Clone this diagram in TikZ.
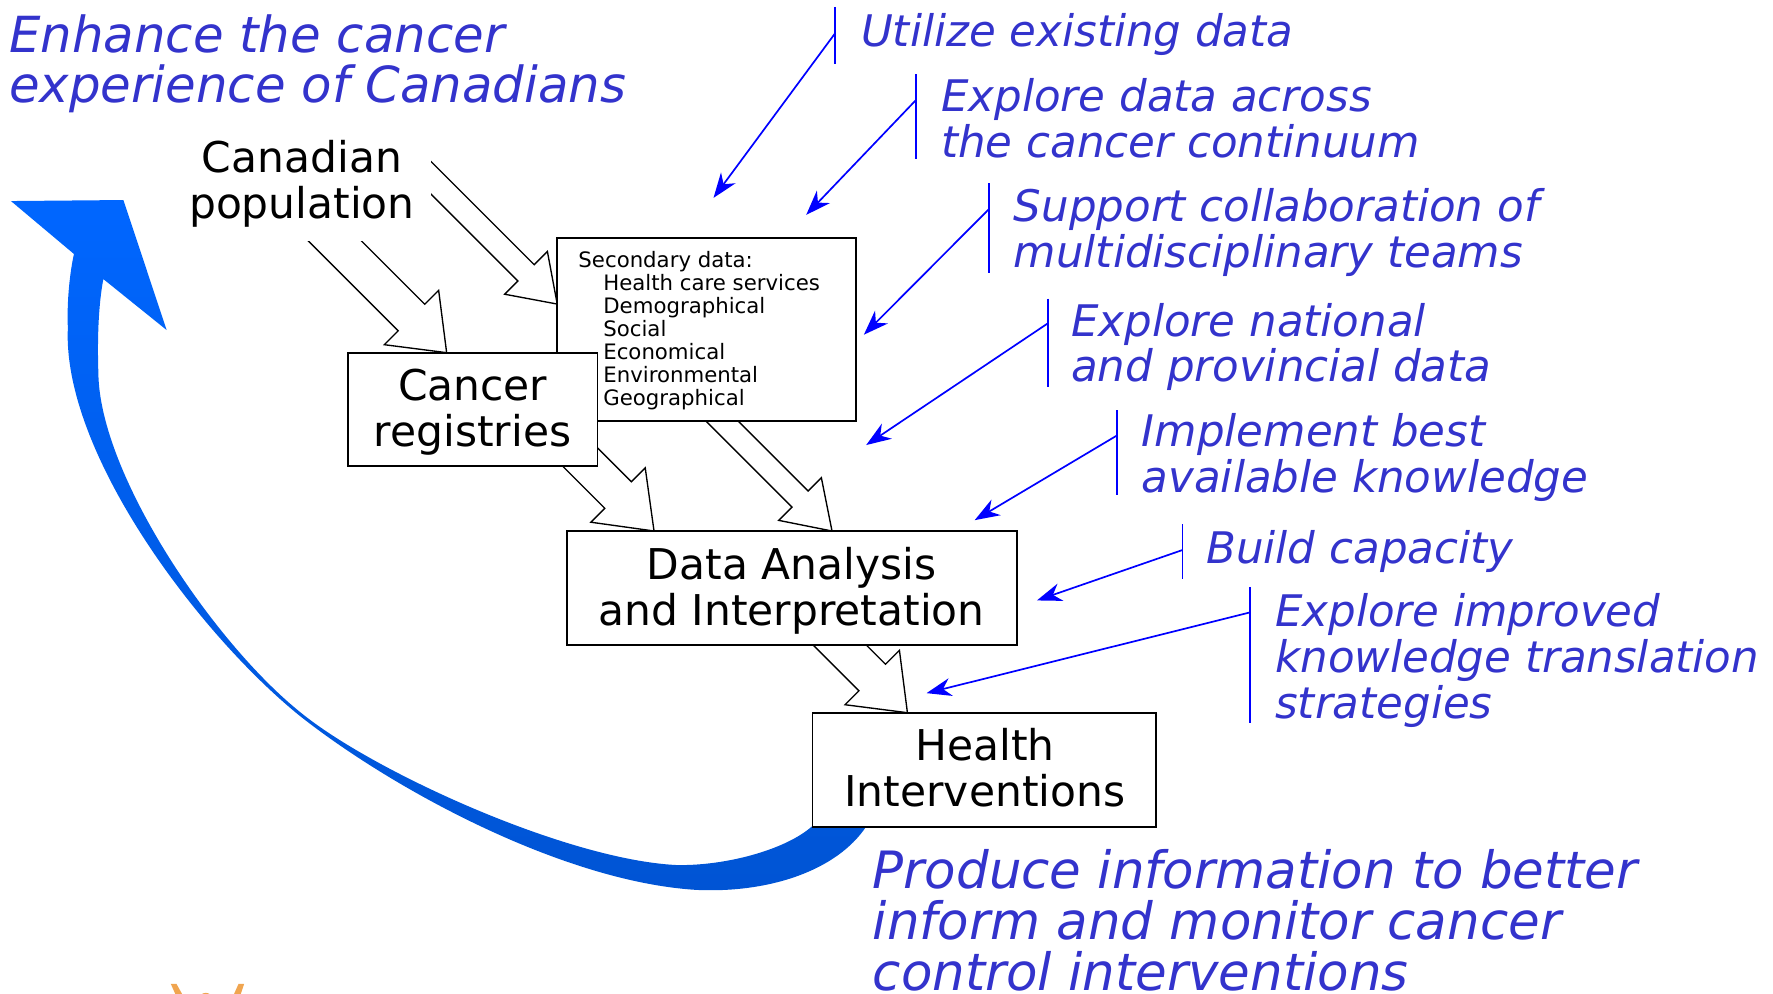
\documentclass[tikz,border=0pt]{standalone}
\usepackage{fontspec}
\setmainfont{DejaVu Sans}
\usetikzlibrary{calc,arrows.meta}
\pgfdeclarelayer{background}
\pgfsetlayers{background,main}
\definecolor{labelblue}{RGB}{51,51,204}
\definecolor{lineblue}{RGB}{0,0,255}
\definecolor{bigblue}{RGB}{0,102,255}
\definecolor{bigbluedark}{RGB}{0,84,212}
\definecolor{logoorange}{RGB}{240,165,80}
\tikzset{
  box/.style={draw=black, line width=1.6pt, fill=white, inner sep=0pt},
  boxtext/.style={align=center, inner sep=0pt, font=\fontsize{37.5}{40.7}\selectfont},
  bluelabel/.style={anchor=base west, align=left, inner sep=0pt, text=labelblue, font=\itshape\fontsize{38.5}{40.4}\selectfont},
  callbar/.style={draw=lineblue, line width=1.5pt},
  leader/.style={draw=lineblue, line width=1.5pt, -{Stealth[length=22pt,width=16pt,inset=7pt]}},
  blockarr/.style={draw=black, fill=white, line width=1.2pt, line join=miter},
}
% tail, tip, shaft half width, head half width, head length
\newcommand\blockarrow[5]{%
  \path ($(#2)!#5!(#1)$) coordinate (ba-base);
  \filldraw[blockarr] ($(#1)!#3!90:(#2)$) -- ($(ba-base)!#3!90:(#2)$) -- ($(ba-base)!#4!90:(#2)$) -- (#2) -- ($(ba-base)!#4!-90:(#2)$) -- ($(ba-base)!#3!-90:(#2)$) -- ($(#1)!#3!-90:(#2)$);
}
\begin{document}
\begin{tikzpicture}[x=1pt,y=-1pt]
\path[use as bounding box] (0,0) rectangle (1568,879);

% ---- boxes (base anchor = baseline of the last line)
\node[box, minimum width=264.2pt, minimum height=161.2pt] (sec) at (624.9,291.4) {};
\node[anchor=base west, align=left, inner sep=0pt, font=\fontsize{18.8}{20.25}\selectfont] (sectext) at (511.4,358.2)
  {Secondary data:\\\hspace*{22pt}Health care services\\\hspace*{22pt}Demographical\\\hspace*{22pt}Social\\\hspace*{22pt}Economical\\\hspace*{22pt}Environmental\\\hspace*{22pt}Geographical};
\node[box, minimum width=220.8pt, minimum height=99.9pt] (reg) at (418,361.85) {};
\node[boxtext, anchor=base] (regtext) at (418,394.5) {Cancer\\registries};
\node[box, minimum width=398.5pt, minimum height=100.8pt] (ana) at (700.35,520) {};
\node[boxtext, anchor=base] (anatext) at (700,552.8) {Data Analysis\\and Interpretation};
\node[box, minimum width=304pt, minimum height=100.8pt] (hlth) at (870.5,680.7) {};
\node[boxtext, anchor=base] (hlthtext) at (871,712.9) {Health\\Interventions};
\node[boxtext, anchor=base, fill=white, inner xsep=14pt, inner ysep=12pt] (pop) at (267,193) {Canadian\\population};

% ---- texts
\node[bluelabel, font=\itshape\fontsize{44}{44.6}\selectfont] (title) at (7.9,90.9) {Enhance the cancer\\experience of Canadians};
\node[bluelabel, font=\itshape\fontsize{45.5}{45.2}\selectfont] (produce) at (771.6,876) {Produce information to better\\inform and monitor cancer\\control interventions};
\node[bluelabel] (l1) at (761.3,41.3) {Utilize existing data};
\node[bluelabel] (l2) at (832.2,139.1) {Explore data across\\the cancer continuum};
\node[bluelabel] (l3) at (896.4,236.7) {Support collaboration of\\multidisciplinary teams};
\node[bluelabel] (l4) at (947.2,337.6) {Explore national\\and provincial data};
\node[bluelabel] (l5) at (1009.6,435.7) {Implement best\\available knowledge};
\node[bluelabel] (l6) at (1066.6,498.2) {Build capacity};
\node[bluelabel] (l7) at (1127.6,635.2) {Explore improved\\knowledge translation\\strategies};

% ---- callout bars and leaders
\coordinate (b1t) at (738.5,6);    \coordinate (b1b) at (738.5,56.6); \coordinate (b1m) at (738.5,29.5); \coordinate (t1) at (631,175);
\coordinate (b2t) at (810,65.5);   \coordinate (b2b) at (810,141);    \coordinate (b2m) at (810,88.5);   \coordinate (t2) at (713,190);
\coordinate (b3t) at (874.5,162);  \coordinate (b3b) at (874.5,241);  \coordinate (b3m) at (874.5,185);  \coordinate (t3) at (764,296);
\coordinate (b4t) at (926.6,264);  \coordinate (b4b) at (926.6,342.6);\coordinate (b4m) at (926.6,286);  \coordinate (t4) at (766,393.6);
\coordinate (b5t) at (988,363);    \coordinate (b5b) at (988,438);    \coordinate (b5m) at (988,385);    \coordinate (t5) at (862,460);
\coordinate (b6t) at (1045.8,463.7);\coordinate (b6b) at (1045.8,512);\coordinate (b6m) at (1045.8,486.4);\coordinate (t6) at (917,531);
\coordinate (b7t) at (1105.5,519); \coordinate (b7b) at (1105.5,639); \coordinate (b7m) at (1105.5,541.6);\coordinate (t7) at (819.4,613);
\foreach \i in {1,...,7}{
  \draw[callbar] (b\i t) -- (b\i b);
  \draw[leader] (b\i m) -- (t\i);
}

% ---- block arrows and big arrow (behind the boxes)
\begin{pgfonlayer}{background}
  \coordinate (tailA) at (355,131.1);  \coordinate (tipA) at (492.8,268.9);
  \coordinate (tailB) at (265,181.9);  \coordinate (tipB) at (395,311.9);
  \coordinate (tailC) at (488,379.2);  \coordinate (tipC) at (578.4,469.6);
  \coordinate (tailD) at (620,353.8);  \coordinate (tipD) at (735.8,469.6);
  \coordinate (tailE) at (720,547.8);  \coordinate (tipE) at (802.5,630.3);
  \blockarrow{tailA}{tipA}{10.2pt}{26.7pt}{39pt}
  \blockarrow{tailB}{tipB}{16.6pt}{34pt}{44pt}
  \blockarrow{tailC}{tipC}{16.6pt}{34pt}{45pt}
  \blockarrow{tailD}{tipD}{10.1pt}{26.7pt}{40pt}
  \blockarrow{tailE}{tipE}{16.6pt}{34pt}{44pt}

  \shade[top color=bigblue, middle color=bigblue, bottom color=bigbluedark]
    (785,705) -- (766,731)
    .. controls (740,770) and (680,790) .. (616,787)
    .. controls (500,780) and (350,700) .. (265,633)
    .. controls (175,560) and (55,400) .. (60,290)
    .. controls (59,265) and (62,240) .. (65.4,224.6)
    -- (9.7,177.8) -- (109.1,176.9) -- (147.4,291.9) -- (91.4,246.8)
    .. controls (87,270) and (86,300) .. (87,330)
    .. controls (88,420) and (190,570) .. (267,631)
    .. controls (330,682) and (500,760) .. (598,765)
    .. controls (640,766) and (695,752) .. (719,730)
    -- (740,705) -- cycle;
\end{pgfonlayer}

% ---- cut-off logo at the bottom edge
\fill[logoorange] (182,884) circle (6pt);
\fill[logoorange] (151,870) -- (156,870) -- (161,879) -- (155,879) -- cycle;
\fill[logoorange] (207,879) -- (213,879) -- (216,870) -- (211,870) -- cycle;
\end{tikzpicture}
\end{document}
